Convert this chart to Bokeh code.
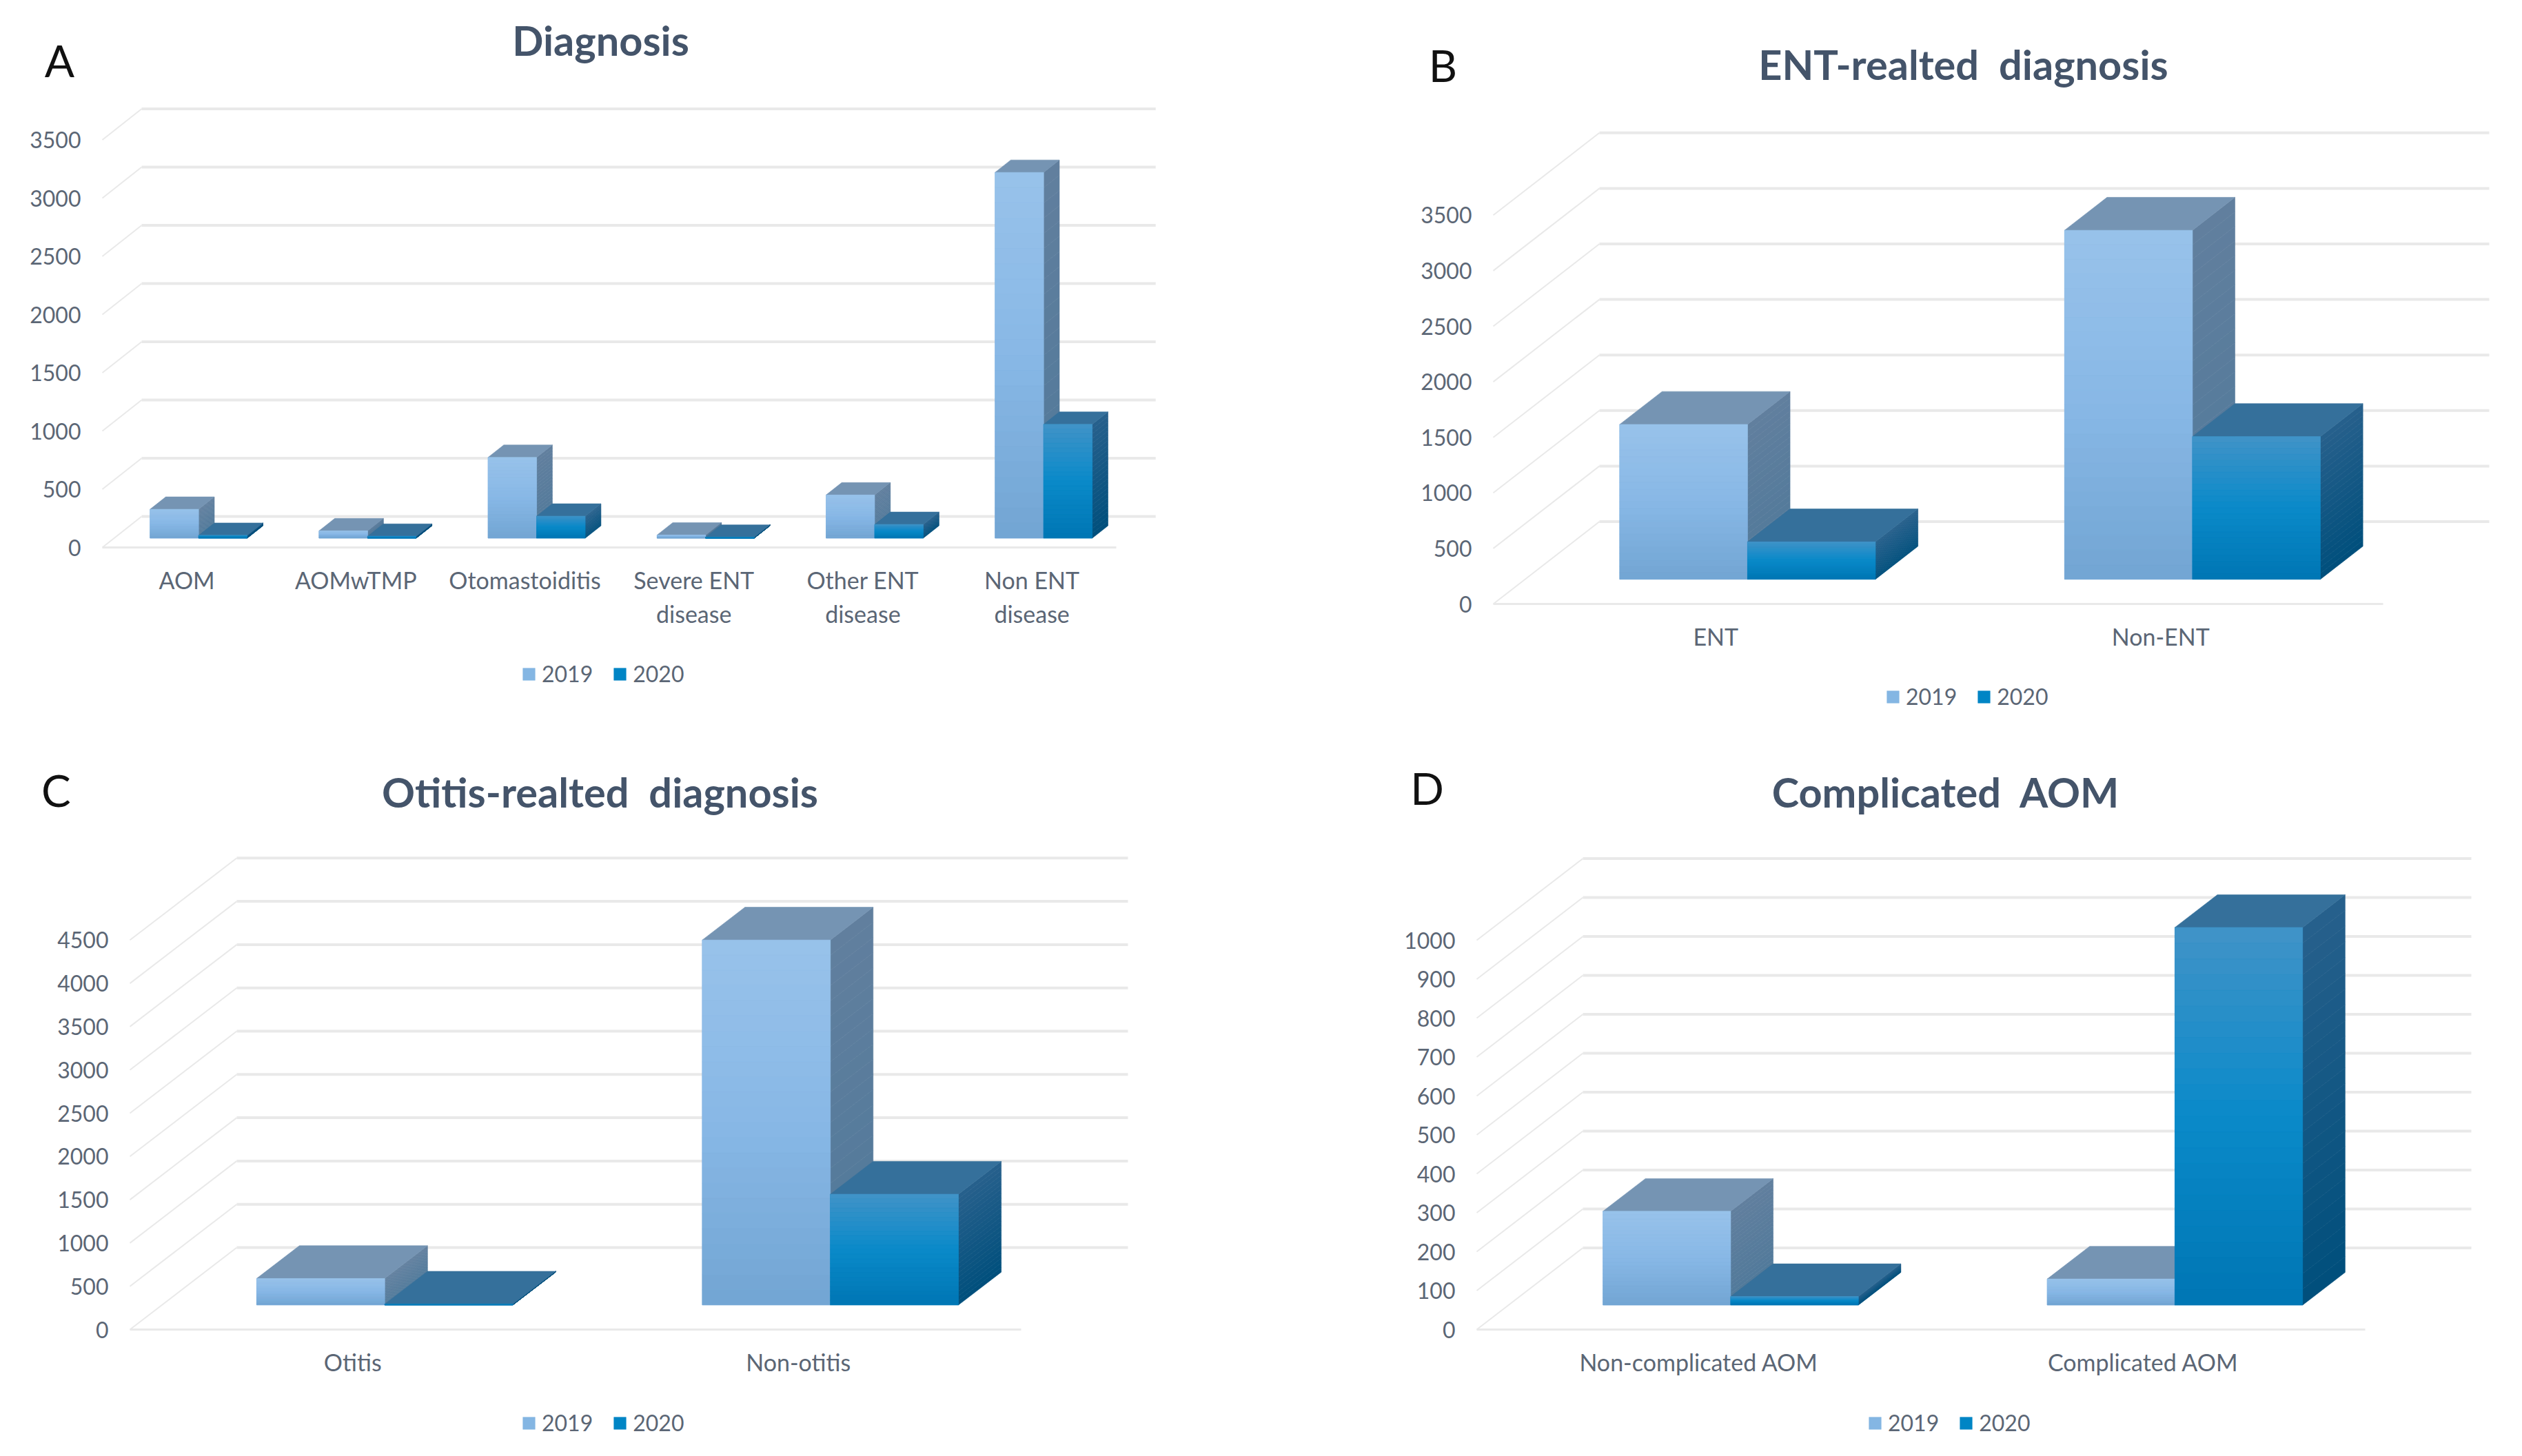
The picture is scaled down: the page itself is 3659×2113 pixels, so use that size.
import numpy as np
from bokeh.embed import file_html
from bokeh.resources import INLINE
from bokeh.plotting import figure
from bokeh.layouts import column, row
from bokeh.models import (ColumnDataSource, FixedTicker, Label, Legend, LegendItem,
                          Range1d)

series_names = ["2019", "2020"]

a_title = "Diagnosis"
a_cats = ["AOM", "AOMwTMP", "Otomastoiditis", "Severe ENT\ndisease", "Other ENT\ndisease", "Non ENT\ndisease"]
a_2019 = [248, 63, 694, 27, 371, 3141]
a_2020 = [24, 16, 189, 8, 118, 978]
a_ticks = [0, 500, 1000, 1500, 2000, 2500, 3000, 3500]

b_title = "ENT-realted\u00a0 diagnosis"
b_cats = ["ENT", "Non-ENT"]
b_2019 = [1394, 3142]
b_2020 = [337, 1285]
b_ticks = [0, 500, 1000, 1500, 2000, 2500, 3000, 3500]

c_title = "Otitis-realted\u00a0 diagnosis"
c_cats = ["Otitis", "Non-otitis"]
c_2019 = [306, 4217]
c_2020 = [10, 1280]
c_ticks = [0, 500, 1000, 1500, 2000, 2500, 3000, 3500, 4000, 4500]

d_title = "Complicated\u00a0 AOM"
d_cats = ["Non-complicated AOM", "Complicated AOM"]
d_2019 = [241, 67]
d_2020 = [22, 970]
d_ticks = [0, 100, 200, 300, 400, 500, 600, 700, 800, 900, 1000]

TEXT = "#5b6675"
TITLE = "#44546a"
GRID = "#e9e9e9"
STRIPS = 24
FONT = "Lato"


def hex_rgb(c):
    return np.array([int(c[i:i + 2], 16) for i in (1, 3, 5)], dtype=float)


def ramp(stops, t):
    pos = [s[0] for s in stops]
    chans = [np.interp(t, pos, [hex_rgb(s[1])[k] for s in stops]) for k in range(3)]
    return "#%02x%02x%02x" % tuple(int(round(v)) for v in chans)


STYLE = [
    dict(front=[(0, "#98c2ea"), (0.5, "#88b8e6"), (1, "#72a5d3")],
         side=[(0, "#617f9e"), (1, "#50799a")], top="#7594b3", legend="#84b6e3"),
    dict(front=[(0, "#4193c8"), (0.5, "#0a8ac9"), (1, "#0076b4")],
         side=[(0, "#27608c"), (1, "#004f7c")], top="#35709b", legend="#0085c5"),
]


def panel(quad, title, title_xy, letter, letter_xy, cats, s2019, s2020, ticks,
          left, floor, back_dx, back_dy, cat_w, unit_px, legend_xy):
    qx0, qy0, qx1, qy1 = quad
    xr = Range1d(-(left - qx0) / cat_w, (qx1 - left) / cat_w)
    yr = Range1d(-(qy1 - floor) / unit_px, (floor - qy0) / unit_px)
    p = figure(width=qx1 - qx0, height=qy1 - qy0, x_range=xr, y_range=yr,
               output_backend="svg", toolbar_location=None,
               min_border_left=0, min_border_right=0, min_border_top=0, min_border_bottom=0,
               background_fill_color="white", border_fill_color="white", outline_line_color=None)
    p.grid.visible = False

    n = len(cats)
    DX = back_dx / cat_w
    DY = back_dy / unit_px
    ticks_arr = np.array(ticks, dtype=float)

    p.segment(x0=0 * ticks_arr, y0=ticks_arr, x1=0 * ticks_arr + DX, y1=ticks_arr + DY,
              line_color=GRID, line_width=2)
    p.segment(x0=0 * ticks_arr + DX, y0=ticks_arr + DY, x1=0 * ticks_arr + DX + n, y1=ticks_arr + DY,
              line_color=GRID, line_width=4)

    gap, bar = 0.2125, 0.2875
    d0, d1 = 0.30, 0.70
    items = []
    for k, vals in enumerate((s2019, s2020)):
        st = STYLE[k]
        vals = np.array(vals, dtype=float)
        x0 = np.arange(n) + gap + k * bar + d0 * DX
        x1 = x0 + bar
        y0 = np.full(n, d0 * DY)
        y1 = y0 + vals
        bx = (d1 - d0) * DX
        by = (d1 - d0) * DY

        base = p.quad(left="l", right="r", bottom="b", top="t",
                      source=ColumnDataSource(dict(l=x0, r=x1, b=y0, t=y1)),
                      fill_color=st["legend"], line_color=st["legend"], line_width=0.5)
        items.append(LegendItem(label=series_names[k], renderers=[base]))

        xs, ys, cs = [], [], []
        for i in range(n):
            edges = np.linspace(1, 0, STRIPS + 1)
            for j in range(STRIPS):
                ya = y0[i] + vals[i] * edges[j]
                yb = y0[i] + vals[i] * edges[j + 1]
                xs.append([x1[i], x1[i] + bx, x1[i] + bx, x1[i]])
                ys.append([ya, ya + by, yb + by, yb])
                cs.append(ramp(st["side"], (j + 0.5) / STRIPS))
        p.patches(xs, ys, fill_color=cs, line_color=cs, line_width=0.6)

        p.patches([[x0[i], x0[i] + bx, x1[i] + bx, x1[i]] for i in range(n)],
                  [[y1[i], y1[i] + by, y1[i] + by, y1[i]] for i in range(n)],
                  fill_color=st["top"], line_color=st["top"], line_width=0.6)

        l, r, b, t, cf = [], [], [], [], []
        for i in range(n):
            edges = np.linspace(1, 0, STRIPS + 1)
            for j in range(STRIPS):
                l.append(x0[i]); r.append(x1[i])
                t.append(y0[i] + vals[i] * edges[j])
                b.append(y0[i] + vals[i] * edges[j + 1])
                cf.append(ramp(st["front"], (j + 0.5) / STRIPS))
        p.quad(left=l, right=r, bottom=b, top=t, fill_color=cf, line_color=cf, line_width=0.6)

    # Axes sit inside the frame at the front corner of the floor
    ax = p.xaxis[0]
    ax.fixed_location = 0
    ax.ticker = FixedTicker(ticks=[i + 0.5 for i in range(n)])
    ax.major_label_overrides = {i + 0.5: c for i, c in enumerate(cats)}
    ax.bounds = (0, n)
    ax.axis_line_color = GRID
    ax.axis_line_width = 3
    ax.major_tick_line_color = None
    ax.minor_tick_line_color = None
    ax.major_label_standoff = 20
    ax.major_label_text_font = FONT
    ax.major_label_text_font_size = "34px"
    ax.major_label_text_color = TEXT

    ay = p.yaxis[0]
    ay.fixed_location = 0
    ay.ticker = FixedTicker(ticks=ticks)
    ay.axis_line_color = None
    ay.major_tick_line_color = None
    ay.minor_tick_line_color = None
    ay.major_label_standoff = 25
    ay.major_label_text_font = FONT
    ay.major_label_text_font_size = "32px"
    ay.major_label_text_color = TEXT
    ay.major_label_text_baseline = "middle"

    to_x = lambda px: (px - left) / cat_w
    to_y = lambda py: (floor - py) / unit_px
    p.add_layout(Label(x=to_x(title_xy[0]), y=to_y(title_xy[1]), text=title, text_font=FONT,
                       text_font_size="59.5px", text_font_style="bold", text_color=TITLE,
                       text_align="center", text_baseline="middle"))
    p.add_layout(Label(x=to_x(letter_xy[0]), y=to_y(letter_xy[1]), text=letter, text_font=FONT,
                       text_font_size="64px", text_color="#111111", text_align="center",
                       text_baseline="middle"))

    leg = Legend(items=items, orientation="horizontal",
                 location=(legend_xy[0] - qx0, qy1 - legend_xy[1] - 19),
                 border_line_color=None, background_fill_color=None, background_fill_alpha=0,
                 glyph_width=22, glyph_height=22, label_standoff=8, spacing=28, padding=0, margin=0,
                 label_text_font=FONT, label_text_font_size="32px", label_text_color=TEXT)
    p.add_layout(leg, "center")
    return p


pa = panel((8, 8, 1908, 1090), a_title, (879, 65), "A", (94, 95), a_cats, a_2019, a_2020, a_ticks,
           156, 802, 57, 45, 245.2, 84.5 / 500, (764, 986))
pb = panel((1908, 8, 3651, 1090), b_title, (2856, 100), "B", (2101, 102), b_cats, b_2019, b_2020, b_ticks,
           2174, 884, 154, 119.5, 645.5, 80.6 / 500, (2743, 1019))
pc = panel((8, 1090, 1908, 2105), c_title, (878, 1156), "C", (89, 1154), c_cats, c_2019, c_2020, c_ticks,
           196, 1937, 155, 119, 646.5, 62.8 / 500, (764, 2073))
pd = panel((1908, 1090, 3651, 2105), d_title, (2831, 1156), "D", (2078, 1151), d_cats, d_2019, d_2020, d_ticks,
           2150, 1937, 154, 118.5, 644.5, 56.5 / 100, (2717, 2073))

page = column(row(pa, pb, spacing=0), row(pc, pd, spacing=0), spacing=0)
open("out.html", "w").write(file_html(page, INLINE))
